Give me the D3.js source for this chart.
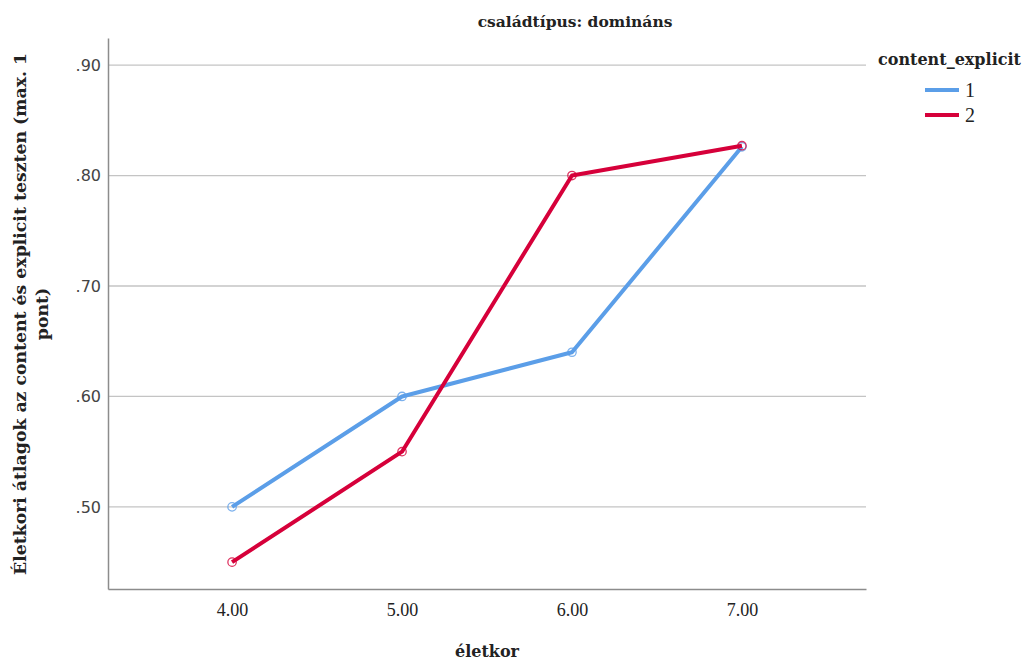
<!DOCTYPE html>
<html><head><meta charset="utf-8">
<script src="https://cdn.jsdelivr.net/npm/d3@7"></script>
<style>body{margin:0;background:#fff}svg{display:block}</style>
</head><body>
<svg id="c" width="1026" height="661"></svg>
<script>
const ages = [4, 5, 6, 7];
const xTickLabels = ["4.00", "5.00", "6.00", "7.00"];
const yTicks = [0.5, 0.6, 0.7, 0.8, 0.9];
const seriesNames = ["1", "2"];
const series1 = [0.50, 0.60, 0.64, 0.826];
const series2 = [0.45, 0.55, 0.80, 0.827];
const colors = ["#5b9ee8", "#d6003a"];

const svg = d3.select("#c");
const L = 108, R = 866, T = 38, B = 589;
const x = d3.scaleLinear().domain([3.27, 7.73]).range([L, R]);
const y = d3.scaleLinear().domain([0.4257, 0.9245]).range([B, T]);
const boldSerif = "DejaVu Serif";

// gridlines
svg.append("g").selectAll("line").data(yTicks).join("line")
  .attr("x1", L).attr("x2", R).attr("y1", d => y(d)).attr("y2", d => y(d))
  .attr("stroke", "#c4c4c4").attr("stroke-width", 1.3);

// y axis
const ya = svg.append("g").attr("transform", `translate(${L},0)`)
  .call(d3.axisLeft(y).tickValues(yTicks).tickSize(0).tickPadding(7).tickFormat(d => d3.format(".2f")(d).replace(/^0/, "")));
ya.select(".domain").attr("stroke", "#8c8c8c").attr("stroke-width", 1.5);
ya.selectAll("text").attr("font-family", "DejaVu Sans").attr("font-size", 16).attr("fill", "#444");

// x axis
const xa = svg.append("g").attr("transform", `translate(0,${B})`)
  .call(d3.axisBottom(x).tickValues(ages).tickSize(0).tickPadding(14).tickFormat((d, i) => xTickLabels[i]));
xa.select(".domain").attr("stroke", "#8c8c8c").attr("stroke-width", 1.5);
xa.selectAll("text").attr("font-family", "Liberation Serif").attr("font-size", 18).attr("fill", "#222");

// lines
const line = d3.line().x((d, i) => x(ages[i])).y(d => y(d));
[series1, series2].forEach((s, k) => {
  svg.append("path").datum(s).attr("d", line).attr("fill", "none")
    .attr("stroke", colors[k]).attr("stroke-width", 4).attr("stroke-linejoin", "round");
  svg.append("g").selectAll("circle").data(s).join("circle")
    .attr("cx", (d, i) => x(ages[i])).attr("cy", d => y(d)).attr("r", 4.2)
    .attr("fill", "none").attr("stroke", colors[k]).attr("stroke-width", 1.3).attr("opacity", 0.8);
});

// title
svg.append("text").attr("x", 575).attr("y", 27).attr("text-anchor", "middle")
  .attr("font-family", boldSerif).attr("font-weight", "bold").attr("font-size", 15.5).attr("fill", "#222")
  .text("családtípus: domináns");

// x label
svg.append("text").attr("x", 487).attr("y", 657).attr("text-anchor", "middle")
  .attr("font-family", boldSerif).attr("font-weight", "bold").attr("font-size", 16).attr("fill", "#222")
  .text("életkor");

// y label
const yl = svg.append("text").attr("transform", "translate(26,314) rotate(-90)").attr("text-anchor", "middle")
  .attr("font-family", boldSerif).attr("font-weight", "bold").attr("font-size", 17.3).attr("fill", "#222");
yl.append("tspan").attr("x", 0).attr("y", 0).text("Életkori átlagok az content és explicit teszten (max. 1");
yl.append("tspan").attr("x", 0).attr("y", 22).text("pont)");

// legend
svg.append("text").attr("x", 878).attr("y", 65)
  .attr("font-family", boldSerif).attr("font-weight", "bold").attr("font-size", 16).attr("fill", "#222")
  .text("content_explicit");
seriesNames.forEach((n, k) => {
  const yy = 90 + k * 25;
  svg.append("line").attr("x1", 925).attr("x2", 959).attr("y1", yy).attr("y2", yy)
    .attr("stroke", colors[k]).attr("stroke-width", 4);
  svg.append("text").attr("x", 965).attr("y", yy + 7)
    .attr("font-family", "Liberation Serif").attr("font-size", 20).attr("fill", "#222").text(n);
});
</script>
</body></html>
